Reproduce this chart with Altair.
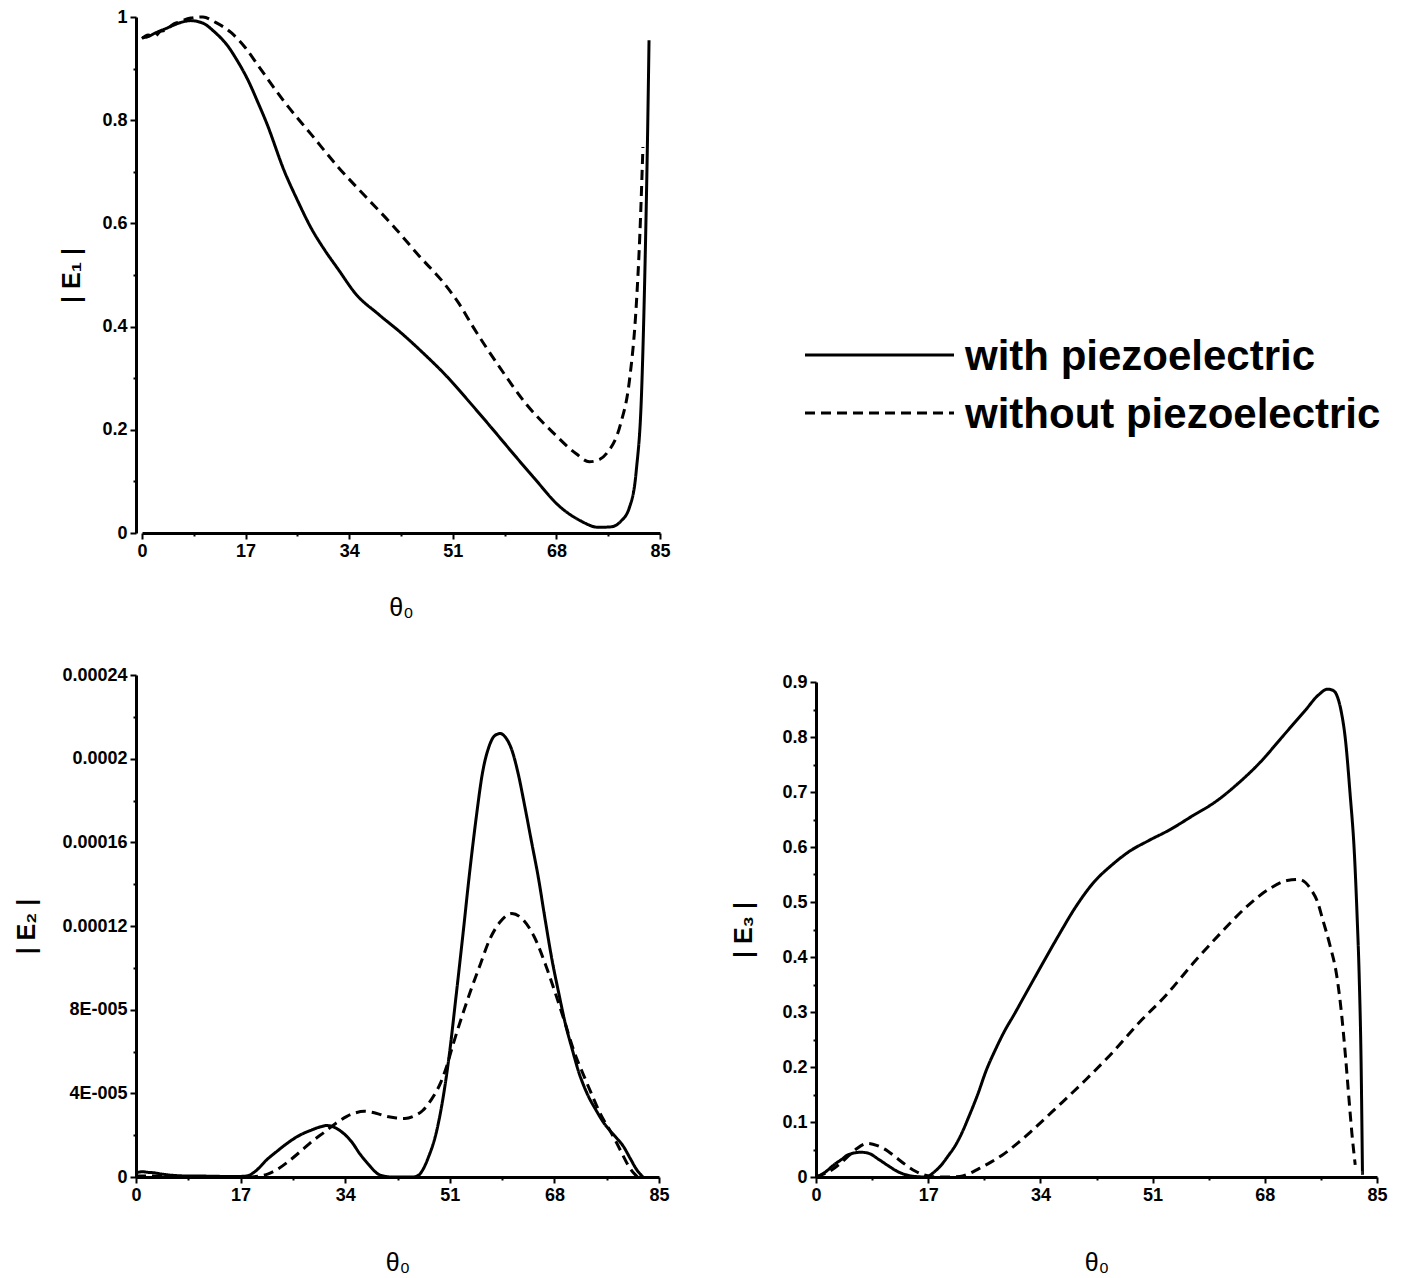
import altair as alt
import pandas as pd

SERIES = ["with piezoelectric", "without piezoelectric"]
DASHES = [[1, 0], [10, 6]]

# ---------------- |E1| ----------------
E1_WITH_THETA = [0, 1, 2, 4, 6, 8, 10, 12, 14, 15.5, 17.5, 19, 20.4, 23.4, 25.5, 27.8, 30, 32.2,
                 35.1, 38.8, 42.5, 46.2, 49.9, 53.5, 57.2, 60.9, 64.6, 68.2, 71.9, 74.9, 77.0,
                 78.5, 80.0, 81.1, 82.0, 82.6, 83.0, 83.2]
E1_WITH_VALUE = [0.960, 0.962, 0.968, 0.978, 0.988, 0.993, 0.988, 0.970, 0.945, 0.918, 0.875,
                 0.835, 0.796, 0.700, 0.645, 0.590, 0.548, 0.511, 0.463, 0.424, 0.388, 0.348,
                 0.305, 0.257, 0.206, 0.154, 0.103, 0.055, 0.024, 0.011, 0.012, 0.022, 0.050,
                 0.120, 0.280, 0.550, 0.800, 0.955]
E1_WITHOUT_THETA = [0, 1, 2, 3, 4, 5, 6, 8, 10, 12, 14.6, 17, 19, 23.4, 27.8, 32.2, 36.6, 41,
                    45.4, 49.9, 52, 54.3, 58.7, 63.1, 67.5, 71.2, 73.4, 75, 76.3, 78.5, 80,
                    81.1, 81.7, 82.2]
E1_WITHOUT_VALUE = [0.958, 0.965, 0.962, 0.972, 0.975, 0.985, 0.990, 0.998, 1.0, 0.990, 0.970,
                    0.940, 0.907, 0.835, 0.772, 0.709, 0.653, 0.598, 0.538, 0.479, 0.445, 0.400,
                    0.321, 0.249, 0.194, 0.154, 0.138, 0.142, 0.155, 0.210, 0.297, 0.440,
                    0.580, 0.748]

# ---------------- |E2| (values in units of 1e-5) ----------------
E2_WITH_THETA = [0, 1, 2, 3, 4, 6, 8, 12, 16, 18, 19.5, 21.2, 23, 24.8, 26.5, 28.4, 30, 31, 32.2,
                 33.5, 35, 36.4, 37.8, 39.3, 40.5, 41.5, 45, 46, 46.6, 47.6, 48.7, 49.8, 50.9,
                 52, 53.1, 54.2, 55.3, 56.3, 57.4, 58.3, 59.2, 60.1, 61.1, 62.1, 63.2, 64.3,
                 65.4, 66.5, 67.6, 68.7, 69.8, 70.9, 71.9, 73.3, 74.8, 76, 77, 78, 79.2, 80.3,
                 81.4, 82.4]
E2_WITH_E5 = [0.2, 0.25, 0.22, 0.2, 0.15, 0.08, 0.05, 0.04, 0.02, 0.05, 0.3, 0.81, 1.25, 1.66,
              1.98, 2.23, 2.4, 2.46, 2.38, 2.14, 1.7, 1.1, 0.6, 0.15, 0.03, 0, 0, 0.1, 0.34, 1.0,
              2.0, 3.6, 5.8, 8.6, 11.5, 14.5, 17.2, 19.3, 20.6, 21.1, 21.2, 21.0, 20.4, 19.3,
              17.7, 16.0, 14.3, 12.3, 10.4, 8.8, 7.3, 6.1, 5.07, 4.0, 3.18, 2.6, 2.23, 1.9, 1.47,
              0.9, 0.34, 0]
E2_WITHOUT_THETA = [0, 10, 18, 20, 21.5, 22.6, 24.8, 27, 28.8, 30.6, 32.4, 34.2, 35.7, 37.1, 39,
                    40.8, 42.3, 43.7, 45.2, 46.6, 48, 49.5, 50.5, 51.6, 53, 54.5, 56, 57.4, 59.2,
                    61.1, 62.9, 64.7, 66.5, 68.3, 69.8, 71.2, 72.7, 74.1, 75.5, 77, 78, 79.2,
                    80.1, 81, 81.5]
E2_WITHOUT_E5 = [0.05, 0.02, 0.0, 0.05, 0.15, 0.3, 0.75, 1.29, 1.75, 2.14, 2.55, 2.89, 3.07,
                 3.14, 3.05, 2.89, 2.82, 2.8, 2.92, 3.18, 3.7, 4.5, 5.3, 6.4, 7.7, 9.0, 10.2,
                 11.3, 12.2, 12.6, 12.3, 11.5, 10.2, 8.66, 7.3, 6.0, 4.9, 3.93, 3.0, 2.23, 1.7,
                 1.0, 0.5, 0.15, 0]

# ---------------- |E3| ----------------
E3_WITH_THETA = [0, 1.3, 2.7, 4, 4.8, 6.8, 8, 9.5, 11, 12.2, 13.6, 15, 16.7, 17.8, 19, 20, 21.1,
                 22.1, 23.1, 24.5, 25.8, 27.2, 28.6, 30, 31.3, 34, 36.7, 39.4, 42.1, 44.9, 47.6,
                 50.3, 53.7, 57.1, 60.5, 63.9, 67.3, 70.7, 74.1, 76.1, 77.5, 78.3, 78.9, 79.6,
                 80.2, 80.9, 81.6, 82.0, 82.3, 82.6, 82.8]
E3_WITH_VALUE = [0, 0.008, 0.022, 0.033, 0.040, 0.045, 0.043, 0.032, 0.020, 0.011, 0.004, 0.001,
                 0, 0.008, 0.022, 0.038, 0.057, 0.080, 0.108, 0.150, 0.194, 0.232, 0.266, 0.295,
                 0.323, 0.381, 0.438, 0.492, 0.536, 0.568, 0.593, 0.611, 0.632, 0.657, 0.682,
                 0.715, 0.754, 0.801, 0.848, 0.876, 0.887, 0.885, 0.876, 0.845, 0.797, 0.700,
                 0.582, 0.470, 0.366, 0.200, 0.004]
E3_WITHOUT_THETA = [0, 2, 4.1, 6, 7.8, 9.3, 10.9, 12.3, 13.6, 15, 16.3, 17.5, 19, 21.8, 23.2,
                    24.5, 26.5, 28.6, 30.6, 32.6, 36.7, 40.8, 44.9, 48.9, 53, 57.1, 61.2, 65.3,
                    68.7, 71.4, 73.1, 74.2, 75.1, 76, 76.8, 77.9, 78.9, 79.6, 80.2, 80.7, 81.2,
                    81.7]
E3_WITHOUT_VALUE = [0, 0.010, 0.029, 0.050, 0.061, 0.057, 0.047, 0.034, 0.022, 0.011, 0.004,
                    0.001, 0, 0.001, 0.006, 0.014, 0.027, 0.043, 0.062, 0.083, 0.129, 0.176,
                    0.226, 0.280, 0.330, 0.388, 0.442, 0.492, 0.524, 0.539, 0.541, 0.535, 0.521,
                    0.500, 0.467, 0.420, 0.366, 0.300, 0.223, 0.150, 0.079, 0.022]

FONT = "Liberation Sans"


def frame(tw, vw, to, vo, factor=1.0):
    return pd.DataFrame({
        "theta": list(tw) + list(to),
        "value": [v * factor for v in vw] + [v * factor for v in vo],
        "series": [SERIES[0]] * len(tw) + [SERIES[1]] * len(to),
    })


def x_axis(title_padding):
    major = "datum.value % 17 === 0"
    return alt.Axis(
        values=[i * 8.5 for i in range(11)],
        format="d",
        labelExpr=f"{major} ? datum.label : ''",
        tickSize={"condition": {"test": major, "value": 6}, "value": 3},
        title="θ₀",
        titleFontWeight="normal",
        titleFontSize=25,
        titlePadding=title_padding,
    )


def y_axis(values, major, title, title_padding, label_expr=None, fmt="~g"):
    expr = label_expr if label_expr else f"{major} ? datum.label : ''"
    return alt.Axis(
        values=values,
        format=fmt,
        labelExpr=expr,
        tickSize={"condition": {"test": major, "value": 6}, "value": 3},
        title=title,
        titleFontWeight="bold",
        titleFontSize=25,
        titlePadding=title_padding,
    )


dash = alt.StrokeDash("series:N", scale=alt.Scale(domain=SERIES, range=DASHES), legend=None)


def panel(df, xscale, yscale, xax, yax, w, h):
    return alt.Chart(df).mark_line(color="black", strokeWidth=3, interpolate="monotone").encode(
        x=alt.X("theta:Q", scale=xscale, axis=xax),
        y=alt.Y("value:Q", scale=yscale, axis=yax),
        strokeDash=dash,
    ).properties(width=w, height=h)


df1 = frame(E1_WITH_THETA, E1_WITH_VALUE, E1_WITHOUT_THETA, E1_WITHOUT_VALUE)
df2 = frame(E2_WITH_THETA, E2_WITH_E5, E2_WITHOUT_THETA, E2_WITHOUT_E5, factor=1e-5)
df3 = frame(E3_WITH_THETA, E3_WITH_VALUE, E3_WITHOUT_THETA, E3_WITHOUT_VALUE)

e1 = panel(
    df1,
    alt.Scale(domain=[0, 85], range=[6, 524], nice=False),
    alt.Scale(domain=[0, 1], nice=False),
    x_axis(35),
    y_axis([round(i / 10, 6) for i in range(11)], "round(datum.value*10) % 2 === 0", "| E₁ |", 17),
    524, 516,
)

e2_major = "round(datum.value*1e5) % 4 === 0"
e2_label = ("round(datum.value*1e5) % 4 !== 0 ? '' : "
            "(datum.value > 0 && datum.value < 1e-4 ? "
            "format(round(datum.value*1e5), 'd') + 'E-005' : format(datum.value, '~g'))")
e2 = panel(
    df2,
    alt.Scale(domain=[0, 85], nice=False),
    alt.Scale(domain=[0, 0.00024], nice=False),
    x_axis(46),
    y_axis([round(i * 2e-5, 10) for i in range(13)], e2_major, "| E₂ |", 22, label_expr=e2_label),
    523, 502,
)

e3 = panel(
    df3,
    alt.Scale(domain=[0, 85], nice=False),
    alt.Scale(domain=[0, 0.9], range=[502, 7], nice=False),
    x_axis(46),
    y_axis([round(i * 0.05, 6) for i in range(19)], "round(datum.value*20) % 2 === 0", "| E₃ |", 25),
    561, 502,
)

legend_df = pd.DataFrame({"series": SERIES})
leg_y = alt.Y("series:N", scale=alt.Scale(type="point", domain=SERIES, range=[338, 396], padding=0),
              axis=None)
leg_rule = alt.Chart(legend_df).mark_rule(color="black", strokeWidth=3).encode(
    x=alt.value(-11), x2=alt.value(138), y=leg_y, strokeDash=dash
)
leg_text = alt.Chart(legend_df).mark_text(
    align="left", baseline="middle", font=FONT, fontSize=42, fontWeight="bold", color="black", dy=2
).encode(x=alt.value(149), y=leg_y, text="series:N")
legend = alt.layer(leg_rule, leg_text).properties(width=561, height=516)

chart = alt.concat(
    e1, legend, e2, e3,
    columns=2,
    spacing={"row": 142, "column": 156},
    bounds="flush",
    align="each",
).properties(
    padding={"left": 14, "top": 8, "right": 10, "bottom": 10},
    background="white",
).configure_view(
    strokeWidth=0
).configure_axis(
    domainColor="black",
    domainWidth=3,
    tickColor="black",
    tickWidth=2,
    labelFont=FONT,
    labelFontSize=18,
    labelFontWeight="bold",
    labelColor="black",
    labelPadding=3,
    labelFlush=False,
    labelOverlap=False,
    titleFont=FONT,
    titleColor="black",
    grid=False,
)

chart.save("out.html", embed_options={"renderer": "svg", "actions": False})
